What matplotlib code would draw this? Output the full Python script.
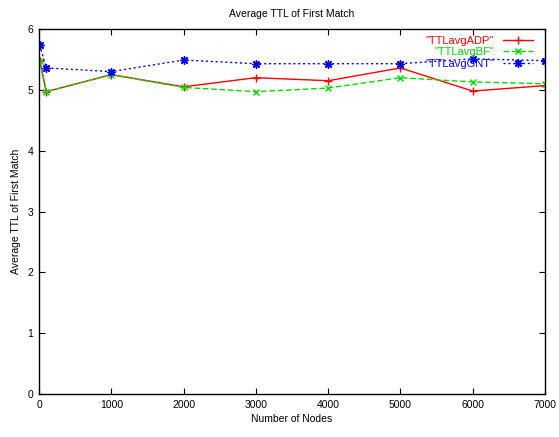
import matplotlib
matplotlib.use("Agg")
import matplotlib.pyplot as plt

plt.rcParams['font.family'] = ['Liberation Sans', 'DejaVu Sans']

nodes = [10, 100, 1000, 2000, 3000, 4000, 5000, 6000, 7000]
ttl_adp = [5.48, 4.97, 5.25, 5.05, 5.20, 5.15, 5.36, 4.98, 5.07]
ttl_bf = [5.48, 4.97, 5.25, 5.04, 4.97, 5.03, 5.20, 5.13, 5.10]
ttl_gnt = [5.74, 5.36, 5.30, 5.49, 5.43, 5.43, 5.43, 5.51, 5.48]

xticks = [0, 1000, 2000, 3000, 4000, 5000, 6000, 7000]
yticks = [0, 1, 2, 3, 4, 5, 6]

fig = plt.figure(figsize=(5.59, 4.37), dpi=100)
ax = fig.add_axes([0.0698, 0.0984, 0.9052, 0.8352])

ax.plot(nodes, ttl_adp, color='#ff0000', lw=1.0, ls='-', marker='+', ms=6, mew=1.0, label='"TTLavgADP"')
ax.plot(nodes, ttl_bf, color='#00dd00', lw=1.0, ls=(0, (4, 2)), marker='x', ms=5, mew=1.0, label='"TTLavgBF"')
ax.plot(nodes, ttl_gnt, color='#0000ff', lw=1.0, ls=(0, (1.5, 2)), marker=(8, 2, 0), ms=6, mew=1.0, label='"TTLavgGNT"')

ax.set_xlim(0, 7000)
ax.set_ylim(0, 6)
ax.set_xticks(xticks)
ax.set_yticks(yticks)
ax.tick_params(direction='in', top=True, right=True, labelsize=7.5, length=4, width=0.8, pad=4)
for s in ax.spines.values():
    s.set_linewidth(1.0)

ax.set_xlabel('Number of Nodes', fontsize=7.5, labelpad=3)
ax.set_ylabel('Average TTL of First Match', fontsize=7.5, labelpad=5)
ax.set_title('Average TTL of First Match', fontsize=7.5, pad=9)

leg = ax.legend(loc='upper right', frameon=False, markerfirst=False, fontsize=8,
                handlelength=2.7, handletextpad=0.8, labelspacing=0.12,
                borderaxespad=0.0, borderpad=0.0, labelcolor='linecolor',
                bbox_to_anchor=(533 / 559, (437 - 36) / 437), bbox_transform=fig.transFigure)

fig.savefig('out.png', dpi=100)
